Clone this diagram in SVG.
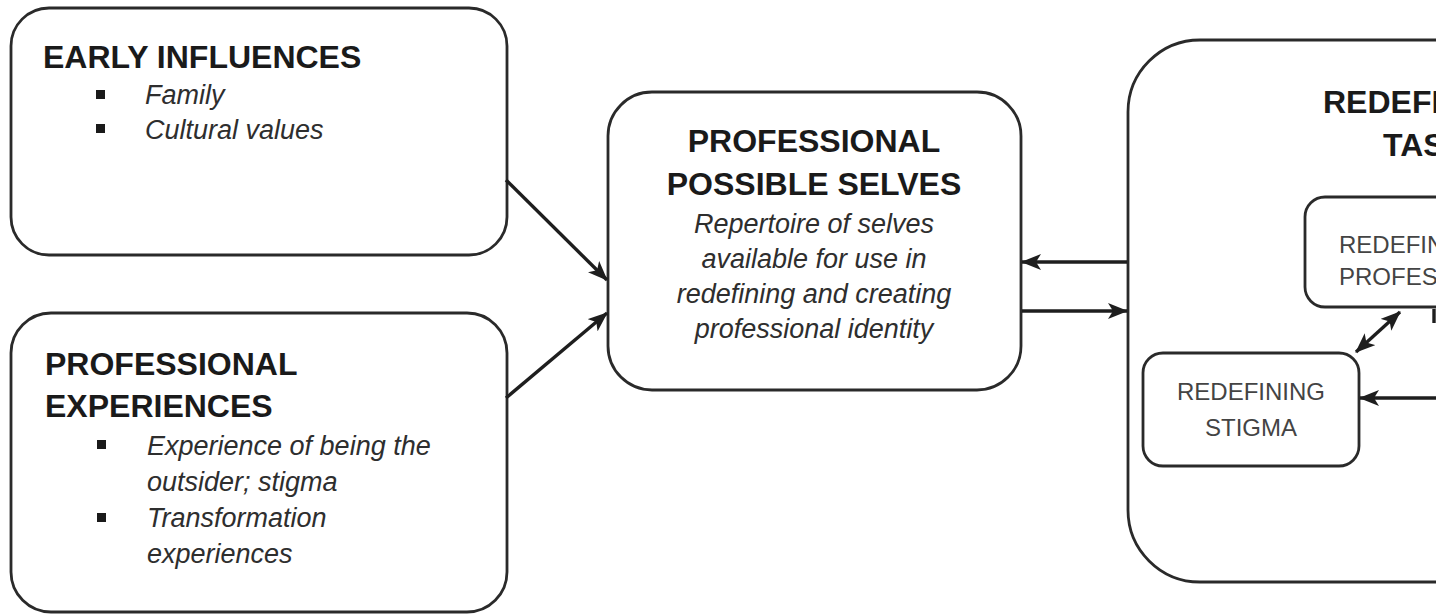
<svg xmlns="http://www.w3.org/2000/svg" width="1436" height="616" viewBox="0 0 1436 616">
<style>
.box{fill:#fff;stroke:#2a2a2a;stroke-width:2.8}
.title{font-family:"Liberation Sans",Arial,sans-serif;font-weight:bold;font-size:32px;fill:#1a1a1a}
.item{font-family:"Liberation Sans",Arial,sans-serif;font-style:italic;font-size:27px;fill:#2e2e2e}
.small{font-family:"Liberation Sans",Arial,sans-serif;font-size:24px;fill:#444}
.bullet{fill:#1a1a1a}
.conn{stroke:#1e1e1e;stroke-width:3.4;fill:none}
</style>
<defs>
<marker id="ah" viewBox="0 0 20 16" refX="19" refY="8" markerWidth="20" markerHeight="16" markerUnits="userSpaceOnUse" orient="auto-start-reverse">
<path d="M0,0 L20,8 L0,16 L5,8 Z" fill="#1e1e1e"/>
</marker>
</defs>
<rect width="1436" height="616" fill="#fff"/>

<g id="early-influences">
<rect class="box" x="11" y="8" width="496" height="247" rx="38"/>
<text class="title" x="43" y="68">EARLY INFLUENCES</text>
<rect class="bullet" x="96" y="90" width="9" height="9"/>
<text class="item" x="145" y="104">Family</text>
<rect class="bullet" x="96" y="124" width="9" height="9"/>
<text class="item" x="145" y="139">Cultural values</text>
</g>

<g id="professional-experiences">
<rect class="box" x="11" y="313" width="496" height="299" rx="40"/>
<text class="title" x="45" y="375">PROFESSIONAL</text>
<text class="title" x="45" y="417">EXPERIENCES</text>
<rect class="bullet" x="97" y="440" width="9" height="9"/>
<text class="item" x="147" y="455">Experience of being the</text>
<text class="item" x="147" y="491">outsider; stigma</text>
<rect class="bullet" x="97" y="513" width="9" height="9"/>
<text class="item" x="147" y="527">Transformation</text>
<text class="item" x="147" y="563">experiences</text>
</g>

<g id="professional-possible-selves">
<rect class="box" x="608" y="92" width="413" height="298" rx="44"/>
<text class="title" x="814" y="152" text-anchor="middle">PROFESSIONAL</text>
<text class="title" x="814" y="195" text-anchor="middle">POSSIBLE SELVES</text>
<text class="item" x="814" y="233" text-anchor="middle">Repertoire of selves</text>
<text class="item" x="814" y="268" text-anchor="middle">available for use in</text>
<text class="item" x="814" y="303" text-anchor="middle">redefining and creating</text>
<text class="item" x="814" y="338" text-anchor="middle">professional identity</text>
</g>

<g id="redefining-tasks">
<rect class="box" x="1128" y="40" width="420" height="542" rx="72"/>
<text class="title" x="1323" y="113">REDEFI</text>
<text class="title" x="1383" y="156">TAS</text>
</g>

<g id="redefining-professional">
<rect class="box" x="1305" y="197" width="300" height="110" rx="20"/>
<text class="small" x="1339" y="253">REDEFIN</text>
<text class="small" x="1339" y="285">PROFES</text>
</g>

<g id="redefining-stigma">
<rect class="box" x="1143" y="353" width="216" height="113" rx="20"/>
<text class="small" x="1251" y="400" text-anchor="middle">REDEFINING</text>
<text class="small" x="1251" y="436" text-anchor="middle">STIGMA</text>
</g>

<g id="connectors">
<line class="conn" x1="506" y1="180" x2="607" y2="280" marker-end="url(#ah)"/>
<line class="conn" x1="506" y1="398" x2="607" y2="313" marker-end="url(#ah)"/>
<line class="conn" x1="1127" y1="262" x2="1022" y2="262" marker-end="url(#ah)"/>
<line class="conn" x1="1022" y1="311" x2="1127" y2="311" marker-end="url(#ah)"/>
<line class="conn" x1="1356" y1="352" x2="1400" y2="312" marker-start="url(#ah)" marker-end="url(#ah)"/>
<line class="conn" x1="1440" y1="398" x2="1360" y2="398" marker-end="url(#ah)"/>
<line class="conn" x1="1434" y1="309" x2="1434" y2="323"/>
</g>
</svg>
